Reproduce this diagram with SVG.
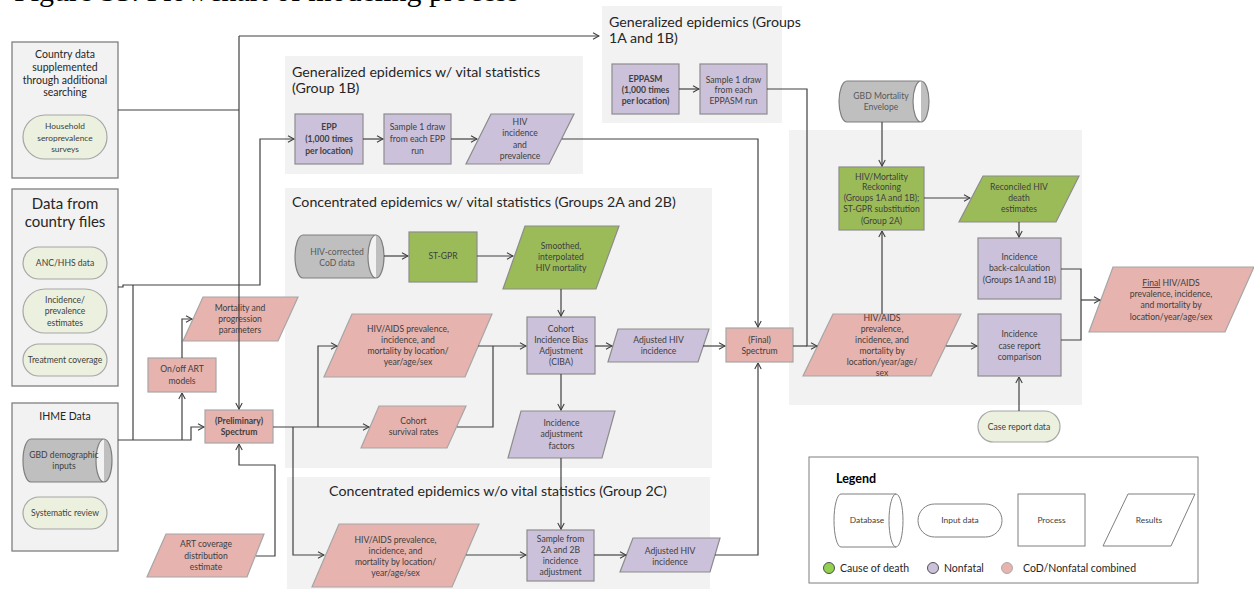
<svg xmlns="http://www.w3.org/2000/svg" width="1254" height="589" viewBox="0 0 1254 589">
<defs>
<style>
text{font-family:Lato,"Liberation Sans",sans-serif;fill:#404040;text-anchor:middle}
.t9{font-size:8.6px}
.t8{font-size:8.4px}
.b{font-weight:bold}
.ttl{font-size:14.2px;fill:#262626;text-anchor:start}
.h11{font-size:10.5px;fill:#262626}
.h15{font-size:15px;fill:#262626}
.panel{fill:#f2f2f2;stroke:none}
.box{fill:#f2f2f2;stroke:#7f7f7f;stroke-width:1.3}
.pink{fill:#e6b3ae;stroke:#a6a6a6;stroke-width:1.2}
.purp{fill:#ccc1da;stroke:#8c8c8c;stroke-width:1.2}
.grn{fill:#9bbb59;stroke:#8c8c8c;stroke-width:1.2}
.db{fill:#bfbfbf;stroke:#7f7f7f;stroke-width:1.2}
.inp{fill:#ebf1de;stroke:#a6a6a6;stroke-width:1.2}
.leg{fill:#fff;stroke:#7f7f7f;stroke-width:1}
.conn path{fill:none;stroke:#404040;stroke-width:1.2}
.ar{marker-end:url(#a)}
</style>
<marker id="a" viewBox="0 0 8 8" refX="7.5" refY="4" markerWidth="8" markerHeight="8" markerUnits="userSpaceOnUse" orient="auto"><path d="M1.5,0.8 L7.5,4 L1.5,7.2" fill="none" stroke="#404040" stroke-width="1.1"/></marker>
</defs>
<rect width="1254" height="589" fill="#fff"/>
<text x="14" y="0.5" style="font-family:'Liberation Serif',serif;font-size:30px;fill:#000;text-anchor:start">Figure S3. Flowchart of modeling process</text>

<!-- panels -->
<g id="panel-1b"><rect class="panel" x="285" y="56" width="298" height="118"/>
<text class="ttl" x="292" y="77">Generalized epidemics w/ vital statistics</text><text class="ttl" x="292" y="93">(Group 1B)</text></g>
<g id="panel-1a1b"><rect class="panel" x="602" y="6" width="180" height="117"/>
<text class="ttl" x="609" y="27">Generalized epidemics (Groups</text><text class="ttl" x="609" y="43">1A and 1B)</text></g>
<g id="panel-2a2b"><rect class="panel" x="285" y="188" width="427" height="280"/>
<text class="ttl" x="292" y="207">Concentrated epidemics w/ vital statistics (Groups 2A and 2B)</text></g>
<g id="panel-2c"><rect class="panel" x="287" y="477" width="423" height="112"/>
<text class="ttl" x="498" y="496" style="text-anchor:middle">Concentrated epidemics w/o vital statistics (Group 2C)</text></g>
<g id="panel-right"><rect class="panel" x="789" y="130" width="293" height="275"/></g>

<!-- left boxes -->
<g id="country-data"><rect class="box" x="12" y="42" width="106" height="136"/>
<text class="h11"><tspan x="65" y="58">Country data</tspan><tspan x="65" y="71">supplemented</tspan><tspan x="65" y="84">through additional</tspan><tspan x="65" y="96">searching</tspan></text></g>
<g id="household"><rect class="inp" x="23" y="115" width="84" height="44" rx="22"/>
<text class="t8"><tspan x="65" y="129">Household</tspan><tspan x="65" y="141">seroprevalence</tspan><tspan x="65" y="152">surveys</tspan></text></g>

<g id="country-files"><rect class="box" x="12" y="189" width="106" height="197"/>
<text class="h15"><tspan x="65" y="209">Data from</tspan><tspan x="65" y="227">country files</tspan></text></g>
<g id="anc"><rect class="inp" x="23" y="247" width="84" height="32" rx="16"/><text class="t9" x="65" y="266">ANC/HHS data</text></g>
<g id="inc-prev"><rect class="inp" x="23" y="289" width="84" height="44" rx="22"/>
<text class="t9"><tspan x="65" y="303">Incidence/</tspan><tspan x="65" y="314">prevalence</tspan><tspan x="65" y="326">estimates</tspan></text></g>
<g id="treatment"><rect class="inp" x="23" y="344" width="84" height="32" rx="16"/><text class="t9" x="65" y="363">Treatment coverage</text></g>

<g id="ihme"><rect class="box" x="12" y="403" width="106" height="148"/><text class="h11" x="65" y="420">IHME Data</text></g>
<g id="gbd-demo"><path class="db" d="M31,439 H104 A8,21.5 0 0 1 104,482 H31 A8,21.5 0 0 1 31,439 Z M104,439 A8,21.5 0 0 0 104,482"/>
<text class="t9"><tspan x="64" y="458">GBD demographic</tspan><tspan x="64" y="469">inputs</tspan></text></g>
<g id="systematic"><rect class="inp" x="23" y="497" width="84" height="32" rx="16"/><text class="t9" x="65" y="516">Systematic review</text></g>

<!-- left process nodes -->
<g id="onoff-art"><rect class="pink" x="148" y="358" width="68" height="34"/>
<text class="t9"><tspan x="182" y="372">On/off ART</tspan><tspan x="182" y="384">models</tspan></text></g>
<g id="mort-prog"><polygon class="pink" points="203,297 298,297 278,341 183,341"/>
<text class="t9"><tspan x="240" y="311">Mortality and</tspan><tspan x="240" y="322">progression</tspan><tspan x="240" y="333">parameters</tspan></text></g>
<g id="prelim-spectrum"><rect class="pink" x="205" y="410" width="68" height="33"/>
<text class="t9 b"><tspan x="239" y="424">(Preliminary)</tspan><tspan x="239" y="435">Spectrum</tspan></text></g>
<g id="art-cov"><polygon class="pink" points="166,534 264,534 247,577 147,577"/>
<text class="t9"><tspan x="206" y="547">ART coverage</tspan><tspan x="206" y="559">distribution</tspan><tspan x="206" y="570">estimate</tspan></text></g>

<!-- group 1B -->
<g id="epp"><rect class="purp" x="295" y="114" width="68" height="50"/>
<text class="t9 b"><tspan x="329" y="130">EPP</tspan><tspan x="329" y="142">(1,000 times</tspan><tspan x="329" y="154">per location)</tspan></text></g>
<g id="sample-epp"><rect class="purp" x="384" y="114" width="67" height="50"/>
<text class="t9"><tspan x="417.5" y="130">Sample 1 draw</tspan><tspan x="417.5" y="142">from each EPP</tspan><tspan x="417.5" y="154">run</tspan></text></g>
<g id="hiv-inc-prev"><polygon class="purp" points="491,114 574,114 549,164 466,164"/>
<text class="t9"><tspan x="520" y="125">HIV</tspan><tspan x="520" y="136">incidence</tspan><tspan x="520" y="148">and</tspan><tspan x="520" y="159">prevalence</tspan></text></g>

<!-- group 1A 1B -->
<g id="eppasm"><rect class="purp" x="612" y="64" width="67" height="50"/>
<text class="t9 b"><tspan x="645.5" y="82">EPPASM</tspan><tspan x="645.5" y="93">(1,000 times</tspan><tspan x="645.5" y="104">per location)</tspan></text></g>
<g id="sample-eppasm"><rect class="purp" x="700" y="64" width="67" height="50"/>
<text class="t9"><tspan x="733.5" y="83">Sample 1 draw</tspan><tspan x="733.5" y="93">from each</tspan><tspan x="733.5" y="104">EPPASM run</tspan></text></g>

<!-- group 2A 2B -->
<g id="hiv-cod"><path class="db" d="M303,235 H376 A8,21.5 0 0 1 376,278 H303 A8,21.5 0 0 1 303,235 Z M376,235 A8,21.5 0 0 0 376,278"/>
<text class="t9" style="fill:#595959"><tspan x="337" y="255">HIV-corrected</tspan><tspan x="337" y="266">CoD data</tspan></text></g>
<g id="stgpr"><rect class="grn" x="409" y="232" width="68" height="50"/><text class="t9" x="443" y="259">ST-GPR</text></g>
<g id="smoothed"><polygon class="grn" points="525,226 619,226 596,289 503,289"/>
<text class="t9"><tspan x="561" y="249">Smoothed,</tspan><tspan x="561" y="260">interpolated</tspan><tspan x="561" y="271">HIV mortality</tspan></text></g>
<g id="hiv-aids-2a"><polygon class="pink" points="352,314 492,314 465,377 324,377"/>
<text class="t9"><tspan x="408" y="332">HIV/AIDS prevalence,</tspan><tspan x="408" y="343">incidence, and</tspan><tspan x="408" y="354">mortality by location/</tspan><tspan x="408" y="365">year/age/sex</tspan></text></g>
<g id="cohort-surv"><polygon class="pink" points="379,406 466,406 447,448 361,448"/>
<text class="t9"><tspan x="413.5" y="424">Cohort</tspan><tspan x="413.5" y="435">survival rates</tspan></text></g>
<g id="ciba"><rect class="purp" x="527" y="317" width="68" height="57"/>
<text class="t9"><tspan x="561" y="332">Cohort</tspan><tspan x="561" y="343">Incidence Bias</tspan><tspan x="561" y="354">Adjustment</tspan><tspan x="561" y="365">(CIBA)</tspan></text></g>
<g id="adj-hiv-2a"><polygon class="purp" points="618,329 709,329 698,362 608,362"/>
<text class="t9"><tspan x="658.5" y="343">Adjusted HIV</tspan><tspan x="658.5" y="354">incidence</tspan></text></g>
<g id="inc-adj-factors"><polygon class="purp" points="521,411 615,411 602,458 508,458"/>
<text class="t9"><tspan x="561.5" y="426">Incidence</tspan><tspan x="561.5" y="437">adjustment</tspan><tspan x="561.5" y="449">factors</tspan></text></g>

<!-- group 2C -->
<g id="hiv-aids-2c"><polygon class="pink" points="339,524 479,524 452,587 312,587"/>
<text class="t9"><tspan x="395.5" y="543">HIV/AIDS prevalence,</tspan><tspan x="395.5" y="554">incidence, and</tspan><tspan x="395.5" y="565">mortality by location/</tspan><tspan x="395.5" y="576">year/age/sex</tspan></text></g>
<g id="sample-2ab"><rect class="purp" x="527" y="530" width="67" height="51"/>
<text class="t9"><tspan x="560.5" y="542">Sample from</tspan><tspan x="560.5" y="553">2A and 2B</tspan><tspan x="560.5" y="564">incidence</tspan><tspan x="560.5" y="575">adjustment</tspan></text></g>
<g id="adj-hiv-2c"><polygon class="purp" points="633,538 720,538 710,572 620,572"/>
<text class="t9"><tspan x="670" y="554">Adjusted HIV</tspan><tspan x="670" y="565">incidence</tspan></text></g>

<g id="final-spectrum"><rect class="pink" x="726" y="328" width="67" height="34"/>
<text class="t9"><tspan x="759.5" y="343">(Final)</tspan><tspan x="759.5" y="354">Spectrum</tspan></text></g>

<!-- right side -->
<g id="gbd-envelope"><path class="db" d="M847,81 H921 A8,20.5 0 0 1 921,122 H847 A8,20.5 0 0 1 847,81 Z M921,81 A8,20.5 0 0 0 921,122"/>
<text class="t9" style="fill:#595959"><tspan x="881" y="99">GBD Mortality</tspan><tspan x="881" y="110">Envelope</tspan></text></g>
<g id="reckoning"><rect class="grn" x="839" y="167" width="85" height="63"/>
<text class="t9"><tspan x="881.5" y="180">HIV/Mortality</tspan><tspan x="881.5" y="190">Reckoning</tspan><tspan x="881.5" y="201">(Groups 1A and 1B);</tspan><tspan x="881.5" y="212">ST-GPR substitution</tspan><tspan x="881.5" y="224">(Group 2A)</tspan></text></g>
<g id="reconciled"><polygon class="grn" points="983,176 1079,176 1056,222 959,222"/>
<text class="t9"><tspan x="1019" y="190">Reconciled HIV</tspan><tspan x="1019" y="201">death</tspan><tspan x="1019" y="212">estimates</tspan></text></g>
<g id="back-calc"><rect class="purp" x="978" y="238" width="83" height="61"/>
<text class="t9"><tspan x="1019.5" y="260">Incidence</tspan><tspan x="1019.5" y="271">back-calculation</tspan><tspan x="1019.5" y="283">(Groups 1A and 1B)</tspan></text></g>
<g id="case-compare"><rect class="purp" x="978" y="314" width="83" height="62"/>
<text class="t9"><tspan x="1019.5" y="337">Incidence</tspan><tspan x="1019.5" y="349">case report</tspan><tspan x="1019.5" y="360">comparison</tspan></text></g>
<g id="hiv-aids-right"><polygon class="pink" points="833,314 961,314 931,376 803,376"/>
<text class="t9"><tspan x="882" y="321">HIV/AIDS</tspan><tspan x="882" y="332">prevalence,</tspan><tspan x="882" y="343">incidence, and</tspan><tspan x="882" y="354">mortality by</tspan><tspan x="882" y="365">location/year/age/</tspan><tspan x="882" y="376">sex</tspan></text></g>
<g id="final-results"><polygon class="pink" points="1113,267 1254,267 1225,332 1089,332"/>
<text class="t9"><tspan x="1171" y="286"><tspan text-decoration="underline">Final</tspan> HIV/AIDS</tspan><tspan x="1171" y="297">prevalence, incidence,</tspan><tspan x="1171" y="308">and mortality by</tspan><tspan x="1171" y="320">location/year/age/sex</tspan></text></g>
<g id="case-report-data"><rect class="inp" x="978" y="411" width="82" height="31" rx="15.5"/><text class="t9" x="1019" y="430">Case report data</text></g>

<!-- legend -->
<g id="legend"><rect class="leg" x="809" y="457" width="389" height="126"/>
<text x="836" y="483" style="font-size:12.5px;font-weight:bold;fill:#000;text-anchor:start">Legend</text>
<path class="leg" d="M841,494 H896 A7,26.5 0 0 1 896,547 H841 A7,26.5 0 0 1 841,494 Z M896,494 A7,26.5 0 0 0 896,547"/>
<text class="t8" x="867" y="523">Database</text>
<rect class="leg" x="918" y="504" width="84" height="33" rx="16.5"/><text class="t8" x="960" y="523">Input data</text>
<rect class="leg" x="1018" y="494" width="67" height="52"/><text class="t8" x="1051.5" y="523">Process</text>
<polygon class="leg" points="1128,494 1195,494 1171,546 1103,546"/><text class="t8" x="1149" y="523">Results</text>
<circle cx="829" cy="568" r="5.5" fill="#92d050" stroke="#404040" stroke-width="0.9"/>
<text x="840" y="572" style="font-size:10.5px;fill:#262626;text-anchor:start">Cause of death</text>
<circle cx="933" cy="568" r="5.5" fill="#ccc1da" stroke="#404040" stroke-width="0.9"/>
<text x="944" y="572" style="font-size:10.5px;fill:#262626;text-anchor:start">Nonfatal</text>
<circle cx="1007" cy="568" r="5.5" fill="#e6b3ae" stroke="#a6a6a6" stroke-width="0.9"/>
<text x="1023" y="572" style="font-size:10.5px;fill:#262626;text-anchor:start">CoD/Nonfatal combined</text>
</g>

<!-- connectors -->
<g id="connectors" class="conn">
<path d="M118,110 H239"/>
<path class="ar" d="M239,36 H599"/>
<path class="ar" d="M239,36 V409"/>
<path class="ar" d="M118,287 H123 V285 H260 V139 H294"/>
<path d="M133,285 V440"/>
<path class="ar" d="M118,440 H191 V427 H204"/>
<path class="ar" d="M182,440 V393"/>
<path class="ar" d="M182,358 V319 H192"/>
<path class="ar" d="M256,556 H275 V465 H239 V444"/>
<path class="ar" d="M273,427 H369"/>
<path class="ar" d="M318,427 V346 H337"/>
<path class="ar" d="M293,427 V555 H324"/>
<path class="ar" d="M478,346 H526"/>
<path d="M457,427 H493 V346"/>
<path class="ar" d="M384,256 H408"/>
<path class="ar" d="M477,256 H513"/>
<path class="ar" d="M561,289 V316"/>
<path class="ar" d="M595,346 H612"/>
<path class="ar" d="M703,346 H725"/>
<path class="ar" d="M561,374 V410"/>
<path class="ar" d="M561,458 V529"/>
<path class="ar" d="M466,555 H526"/>
<path class="ar" d="M594,555 H626"/>
<path class="ar" d="M715,555 H758 V363"/>
<path class="ar" d="M562,139 H758 V327"/>
<path class="ar" d="M363,139 H383"/>
<path class="ar" d="M451,139 H477"/>
<path class="ar" d="M679,89 H699"/>
<path class="ar" d="M767,89 H807 V346 H817"/>
<path d="M793,346 H807"/>
<path class="ar" d="M882,122 V166"/>
<path class="ar" d="M882,314 V231"/>
<path class="ar" d="M924,198 H970"/>
<path class="ar" d="M1019,222 V237"/>
<path class="ar" d="M946,346 H977"/>
<path d="M1061,269 H1081 V340 H1061"/>
<path class="ar" d="M1081,300 H1100"/>
<path class="ar" d="M1019,411 V377"/>
</g>
</svg>
